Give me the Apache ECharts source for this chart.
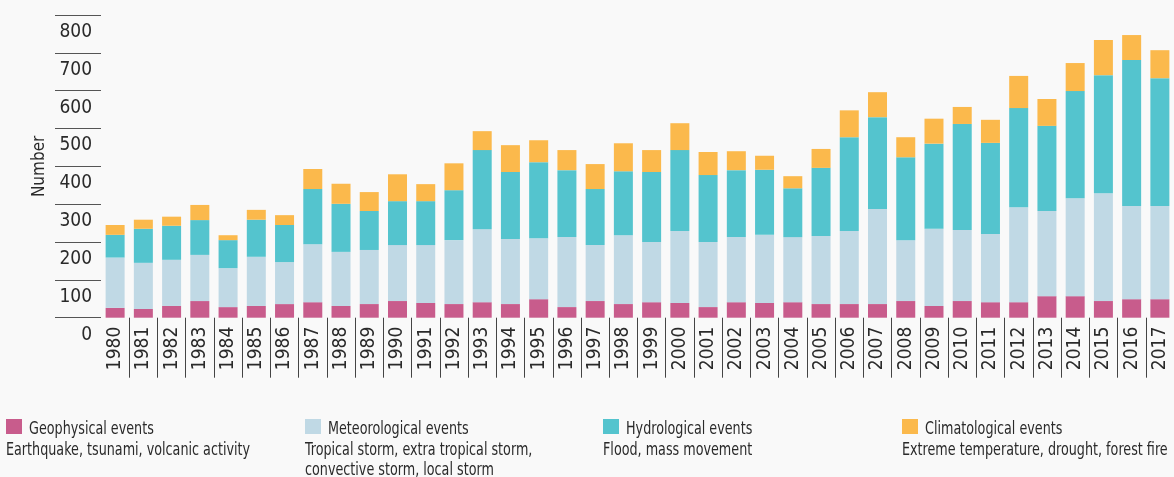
<!DOCTYPE html>
<html>
<head>
<meta charset="utf-8">
<script src="https://cdn.jsdelivr.net/npm/echarts@6/dist/echarts.min.js"></script>
<style>
  html, body { margin: 0; padding: 0; background: #f9f9f9; }
  #chart { width: 1174px; height: 477px; }
</style>
</head>
<body>
<div id="chart"></div>
<script>
// Number of natural loss events per year, by event family
const years = ['1980','1981','1982','1983','1984','1985','1986','1987','1988','1989',
  '1990','1991','1992','1993','1994','1995','1996','1997','1998','1999',
  '2000','2001','2002','2003','2004','2005','2006','2007','2008','2009',
  '2010','2011','2012','2013','2014','2015','2016','2017'];

const geophysical    = [26,23,31,44,28,31,36,41,31,36,44,39,36,41,36,49,28,44,36,41,39,28,41,39,41,36,36,36,44,31,44,41,41,57,57,44,49,49];
const meteorological = [133,122,122,122,103,130,111,153,143,143,148,153,169,193,172,161,185,148,182,159,190,172,172,180,172,180,193,251,161,204,188,180,251,225,259,285,246,246];
const hydrological   = [60,90,90,92,74,98,98,146,127,103,116,116,132,209,177,201,177,148,169,185,214,177,177,172,129,180,248,243,219,225,280,241,262,225,283,312,386,338];
const climatological = [26,24,24,40,13,26,26,53,53,50,71,45,71,50,71,58,53,66,74,58,71,61,50,37,32,50,71,66,53,66,45,61,85,71,74,93,66,74];

const seriesNames = ['Geophysical events','Meteorological events','Hydrological events','Climatological events'];
const seriesDescriptions = [
  'Earthquake, tsunami, volcanic activity',
  'Tropical storm, extra tropical storm,\nconvective storm, local storm',
  'Flood, mass movement',
  'Extreme temperature, drought, forest fire'
];
const yTicks = { min: 0, max: 800, interval: 100 };

const colors = ['#c85c8c', '#c0d9e5', '#54c4ce', '#fbb94c'];
const FONT = '"DejaVu Sans Condensed", "DejaVu Sans", sans-serif';
const TEXT = '#2a2a2a';

// Key below the plot: swatch, title and a short description per family.
// Text is narrowed horizontally to get a condensed look.
const keyX = [6, 305, 603, 902];
const keyNarrow = 0.81;

function keyGraphics() {
  const out = [];
  seriesNames.forEach((name, i) => {
    out.push({
      type: 'rect',
      shape: { x: keyX[i], y: 419, width: 16, height: 15 },
      style: { fill: colors[i] },
      silent: true
    });
    out.push({
      type: 'text',
      x: keyX[i] + 23,
      y: 419,
      scaleX: keyNarrow,
      style: {
        text: name, fill: TEXT, fontSize: 17.5, lineHeight: 20,
        fontFamily: FONT, verticalAlign: 'top'
      },
      silent: true
    });
    out.push({
      type: 'text',
      x: keyX[i],
      y: 440,
      scaleX: keyNarrow,
      style: {
        text: seriesDescriptions[i], fill: TEXT, fontSize: 17.5, lineHeight: 20,
        fontFamily: FONT, verticalAlign: 'top'
      },
      silent: true
    });
  });
  return out;
}

const chart = echarts.init(document.getElementById('chart'));

const values = [geophysical, meteorological, hydrological, climatological];

chart.setOption({
  backgroundColor: '#f9f9f9',
  textStyle: { fontFamily: FONT },
  animation: false,
  grid: [
    { left: 101, width: 1077.3, top: 15, height: 302.7 },
    { left: 55, width: 46, top: 15, height: 302.7 }
  ],
  xAxis: [
    {
      type: 'category',
      gridIndex: 0,
      data: years,
      axisLine: { show: false },
      axisTick: {
        show: true,
        length: 60,
        interval: (i) => i > 0,
        lineStyle: { color: '#444', width: 1 }
      },
      axisLabel: {
        interval: 0,
        rotate: 90,
        margin: 9,
        fontSize: 19,
        color: TEXT,
        fontFamily: FONT
      }
    },
    { type: 'value', gridIndex: 1, show: false, min: 0, max: 1 }
  ],
  yAxis: [
    {
      type: 'value',
      gridIndex: 0,
      min: yTicks.min,
      max: yTicks.max,
      interval: yTicks.interval,
      splitLine: { show: false },
      axisLine: { show: false },
      axisTick: { show: false },
      name: 'Number',
      nameLocation: 'middle',
      nameGap: 36,
      nameTextStyle: { fontSize: 17, color: TEXT, fontFamily: FONT },
      axisLabel: {
        margin: 9,
        fontSize: 19,
        color: TEXT,
        verticalAlign: 'top',
        lineHeight: 34,
        fontFamily: FONT
      }
    },
    {
      type: 'value',
      gridIndex: 1,
      min: yTicks.min,
      max: yTicks.max,
      interval: yTicks.interval,
      axisLine: { show: false },
      axisTick: { show: false },
      axisLabel: { show: false },
      splitLine: { show: true, lineStyle: { color: '#555', width: 1.2 } }
    }
  ],
  graphic: keyGraphics(),
  series: seriesNames.map((name, i) => ({
    name: name,
    type: 'bar',
    stack: 'events',
    xAxisIndex: 0,
    yAxisIndex: 0,
    barWidth: 19,
    itemStyle: { color: colors[i] },
    data: values[i]
  }))
});
</script>
</body>
</html>
